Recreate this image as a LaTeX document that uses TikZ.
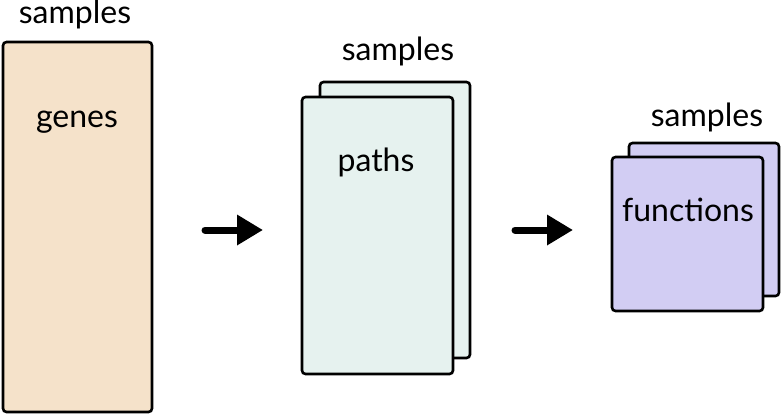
\documentclass[tikz,border=0pt]{standalone}
\usepackage{fontspec}
\setmainfont{Lato}
\usetikzlibrary{arrows.meta}
\definecolor{peach}{HTML}{F5E2CA}
\definecolor{mint}{HTML}{E6F2EF}
\definecolor{lavender}{HTML}{D2CDF3}
\tikzset{
  sheet/.style={draw=black, line width=2.6pt, rounded corners=3.5pt, inner sep=0pt},
  label/.style={font=\fontsize{32}{34}\selectfont, inner sep=0pt, anchor=base},
  flow/.style={line width=7pt, line cap=round, -{Triangle[length=26pt,width=29pt]}},
}
\begin{document}
\begin{tikzpicture}[x=1pt, y=-1pt]
\useasboundingbox (0,0) rectangle (782,416);

% gene matrix
\draw[sheet, fill=peach] (3,42) rectangle (152,412);
\node[label] (tg) at (77,127) {genes};
\node[label] (sg) at (75,23) {samples};

% pathway matrices (stacked)
\draw[sheet, fill=mint] (320,82) rectangle (470,358);
\draw[sheet, fill=mint] (302,97) rectangle (453,374);
\node[label] (tp) at (376,171) {paths};
\node[label] (sp) at (398,60) {samples};

% function matrices (stacked)
\draw[sheet, fill=lavender] (629,143) rectangle (779,296);
\draw[sheet, fill=lavender] (612,157) rectangle (763,311);
\node[label] (tf) at (688,221) {functions};
\node[label] (sf) at (707,126) {samples};

% transitions
\coordinate (a1s) at (205,230);
\coordinate (a1e) at (263,230);
\coordinate (a2s) at (515,230);
\coordinate (a2e) at (573,230);
\draw[flow] (a1s) -- (a1e);
\draw[flow] (a2s) -- (a2e);
\end{tikzpicture}
\end{document}
